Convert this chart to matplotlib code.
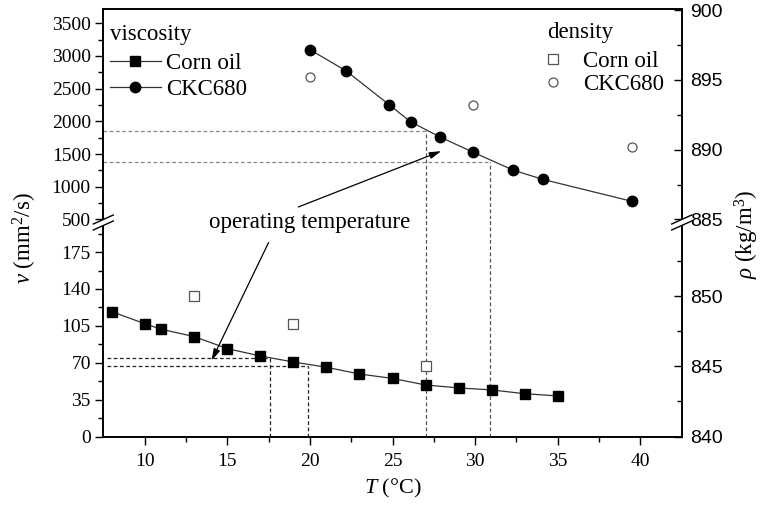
import matplotlib
matplotlib.use('Agg')
import matplotlib.pyplot as plt
from matplotlib.lines import Line2D
from matplotlib.patches import Polygon

plt.rcParams['font.family'] = ['Liberation Serif', 'DejaVu Serif']
plt.rcParams['mathtext.fontset'] = 'custom'
plt.rcParams['mathtext.rm'] = 'Liberation Serif'
plt.rcParams['mathtext.it'] = 'Liberation Serif:italic'

# ---------------- data ----------------
corn_T = [8, 10, 11, 13, 15, 17, 19, 21, 23, 25, 27, 29, 31, 33, 35]
corn_visc = [118.5, 107.1, 101.8, 94.8, 83.4, 76.4, 70.7, 65.7, 59.3, 55.1, 48.9, 46.1, 44.2, 40.6, 38.5]
corn_dens_T = [13, 19, 27]
corn_dens = [850.0, 848.0, 845.0]

ckc_T = [20, 22.2, 24.8, 26.1, 27.9, 29.9, 32.3, 34.1, 39.5]
ckc_visc = [3097, 2771, 2254, 1992, 1758, 1525, 1254, 1112, 776]
ckc_dens_T = [20, 29.9, 39.5]
ckc_dens = [895.2, 893.2, 890.2]

# operating temperature reference lines (T, viscosity)
corn_op_T = [17.6, 19.9]
corn_op_v = [74.3, 66.9]
ckc_op_T = [27.03, 30.88]
ckc_op_v = [1850, 1381]

x_ticks = [10, 15, 20, 25, 30, 35, 40]
yl_bot_ticks = [0, 35, 70, 105, 140, 175]
yl_top_ticks = [500, 1000, 1500, 2000, 2500, 3000, 3500]
yr_top_ticks = [885, 890, 895, 900]
yr_bot_ticks = [840, 845, 850]

TICK_FS = 14
TEXT_FS = 16.5

# ---------------- layout ----------------
W, H = 764, 509
fig = plt.figure(figsize=(W / 100, H / 100), dpi=100)

def fx(px):
    return px / W

def fy(py):
    return 1 - py / H

L, R, TOP, BRK, BOT = 103.3, 681.7, 8.8, 219.4, 436.5
ax_top = fig.add_axes([fx(L), fy(BRK), fx(R) - fx(L), fy(TOP) - fy(BRK)])
ax_bot = fig.add_axes([fx(L), fy(BOT), fx(R) - fx(L), fy(BRK) - fy(BOT)])
axr_top = ax_top.twinx()
axr_bot = ax_bot.twinx()
for a in (ax_top, ax_bot, axr_top, axr_bot):
    a.patch.set_visible(False)
    for s in a.spines.values():
        s.set_linewidth(1.2)

ax_top.set_xlim(7.5, 42.5)
ax_bot.set_xlim(7.5, 42.5)
ax_top.set_ylim(500, 3722)
ax_bot.set_ylim(0, 206)
axr_top.set_ylim(885, 900.1)
axr_bot.set_ylim(840, 855.5)

for a in (ax_top, axr_top):
    a.spines['bottom'].set_visible(False)
for a in (ax_bot, axr_bot):
    a.spines['top'].set_visible(False)

ax_top.tick_params(axis='x', which='both', bottom=False, top=False, labelbottom=False)
axr_top.tick_params(axis='x', which='both', bottom=False, top=False, labelbottom=False)
ax_bot.set_xticks(x_ticks)
ax_bot.set_xticks([12.5, 17.5, 22.5, 27.5, 32.5, 37.5], minor=True)
ax_bot.tick_params(axis='x', which='both', direction='out', top=False, labelsize=TICK_FS, pad=6)
ax_bot.tick_params(axis='x', which='major', length=6, width=1.0)
ax_bot.tick_params(axis='x', which='minor', length=3.5, width=1.0)

ax_top.set_yticks(yl_top_ticks)
ax_top.set_yticks([750, 1250, 1750, 2250, 2750, 3250], minor=True)
ax_bot.set_yticks(yl_bot_ticks)
ax_bot.set_yticks([17.5, 52.5, 87.5, 122.5, 157.5, 192.5], minor=True)
for a in (ax_top, ax_bot):
    a.tick_params(axis='y', which='both', direction='out', right=False, labelsize=TICK_FS, pad=3)
    a.tick_params(axis='y', which='major', length=6, width=1.0)
    a.tick_params(axis='y', which='minor', length=3.5, width=1.0)

axr_top.set_yticks(yr_top_ticks)
axr_top.set_yticks([887.5, 892.5, 897.5], minor=True)
axr_bot.set_yticks(yr_bot_ticks)
axr_bot.set_yticks([842.5, 847.5, 852.5], minor=True)
for a in (axr_top, axr_bot):
    a.tick_params(axis='y', which='both', direction='in', left=False, labelsize=TICK_FS, pad=6)
    a.tick_params(axis='y', which='major', length=6, width=1.0)
    a.tick_params(axis='y', which='minor', length=3.5, width=1.0)
    for lab in a.get_yticklabels():
        lab.set_fontfamily('Liberation Sans')

# ---------------- reference lines ----------------
for T, v in zip(ckc_op_T, ckc_op_v):
    ax_top.hlines(v, 7.5, T, colors='#888888', linestyles=(0, (3, 2)), linewidth=0.9, zorder=1)
    ax_top.vlines(T, 500, v, colors='#555555', linestyles=(0, (3, 2)), linewidth=0.9, zorder=1)
    ax_bot.vlines(T, 0, 206, colors='#555555', linestyles=(0, (3, 2)), linewidth=0.9, zorder=1)
for T, v in zip(corn_op_T, corn_op_v):
    ax_bot.hlines(v, 7.73, T, colors='#222222', linestyles=(0, (3, 2)), linewidth=0.9, zorder=1)
    ax_bot.vlines(T, 0, v, colors='#222222', linestyles=(0, (3, 2)), linewidth=0.9, zorder=1)

# ---------------- data series ----------------
l_corn, = ax_bot.plot(corn_T, corn_visc, color='#333333', lw=0.9, marker='s', ms=6.5,
                      mfc='black', mec='black', zorder=3)
l_ckc, = ax_top.plot(ckc_T, ckc_visc, color='#333333', lw=0.9, marker='o', ms=7.5,
                     mfc='black', mec='black', zorder=3)
d_corn, = axr_bot.plot(corn_dens_T, corn_dens, ls='none', marker='s', ms=6.5,
                       mfc='white', mec='#555555', mew=0.9)
d_ckc, = axr_top.plot(ckc_dens_T, ckc_dens, ls='none', marker='o', ms=6.5,
                      mfc='white', mec='#555555', mew=0.9)

# ---------------- legends ----------------
leg1 = axr_top.legend([l_corn, l_ckc], ['Corn oil', 'CKC680'], title='viscosity',
                      loc='upper left', bbox_to_anchor=(-0.005, 0.972), frameon=False,
                      fontsize=TEXT_FS, title_fontsize=TEXT_FS, handlelength=2.26,
                      handletextpad=0.22, labelspacing=0.2, alignment='left',
                      borderaxespad=0.0)
leg1._legend_box.sep = 6
axr_top.add_artist(leg1)
leg2 = axr_top.legend([d_corn, d_ckc], ['Corn oil', 'CKC680'], title='density',
                      loc='upper left', bbox_to_anchor=(0.752, 0.982), frameon=False,
                      fontsize=TEXT_FS, title_fontsize=TEXT_FS, handlelength=0.5,
                      handletextpad=1.07, labelspacing=0.1, alignment='left',
                      borderaxespad=0.0)
leg2._legend_box.sep = 6

# ---------------- annotation ----------------
ax_bot.text(20.0, 203.5, 'operating temperature', ha='center', va='center',
            fontsize=TEXT_FS, clip_on=False, zorder=5)
ax_top.annotate('', xy=(27.95, 1545), xycoords=ax_top.transData,
                xytext=(19.3, 690), textcoords=ax_top.transData,
                arrowprops=dict(arrowstyle='-|>,head_length=0.7,head_width=0.2',
                                color='black', lw=0.9, shrinkA=0, shrinkB=0),
                annotation_clip=False, zorder=6)
ax_bot.annotate('', xy=(14.05, 72.0), xycoords=ax_bot.transData,
                xytext=(17.5, 184), textcoords=ax_bot.transData,
                arrowprops=dict(arrowstyle='-|>,head_length=0.7,head_width=0.2',
                                color='black', lw=0.9, shrinkA=0, shrinkB=0),
                annotation_clip=False, zorder=6)

# ---------------- axis labels ----------------
fig.text(fx(393), fy(488), r'$T$ (°C)', ha='center', va='center', fontsize=16)
fig.text(fx(25), fy(238), r'$\nu$ (mm$^2$/s)', ha='center', va='center',
         rotation=90, fontsize=16.5)
fig.text(fx(747), fy(234), r'$\rho$ (kg/m$^3$)', ha='center', va='center',
         rotation=90, fontsize=16.5)

# ---------------- axis break marks ----------------
def brk(xc, yc):
    d = 3.0
    pts = [(xc - 10, yc + 4.5 - d), (xc + 10, yc - 4.5 - d),
           (xc + 10, yc - 4.5 + d), (xc - 10, yc + 4.5 + d)]
    fig.add_artist(Polygon([(fx(a), fy(b)) for a, b in pts], closed=True,
                           transform=fig.transFigure, fc='white', ec='none', zorder=10))
    for s in (-d, d):
        fig.add_artist(Line2D([fx(xc - 10), fx(xc + 10)], [fy(yc + 4.5 + s), fy(yc - 4.5 + s)],
                              transform=fig.transFigure, color='black', lw=1.0, zorder=11))

brk(L, 222.5)
brk(R, 222.5)

fig.savefig('out.png', dpi=100)
